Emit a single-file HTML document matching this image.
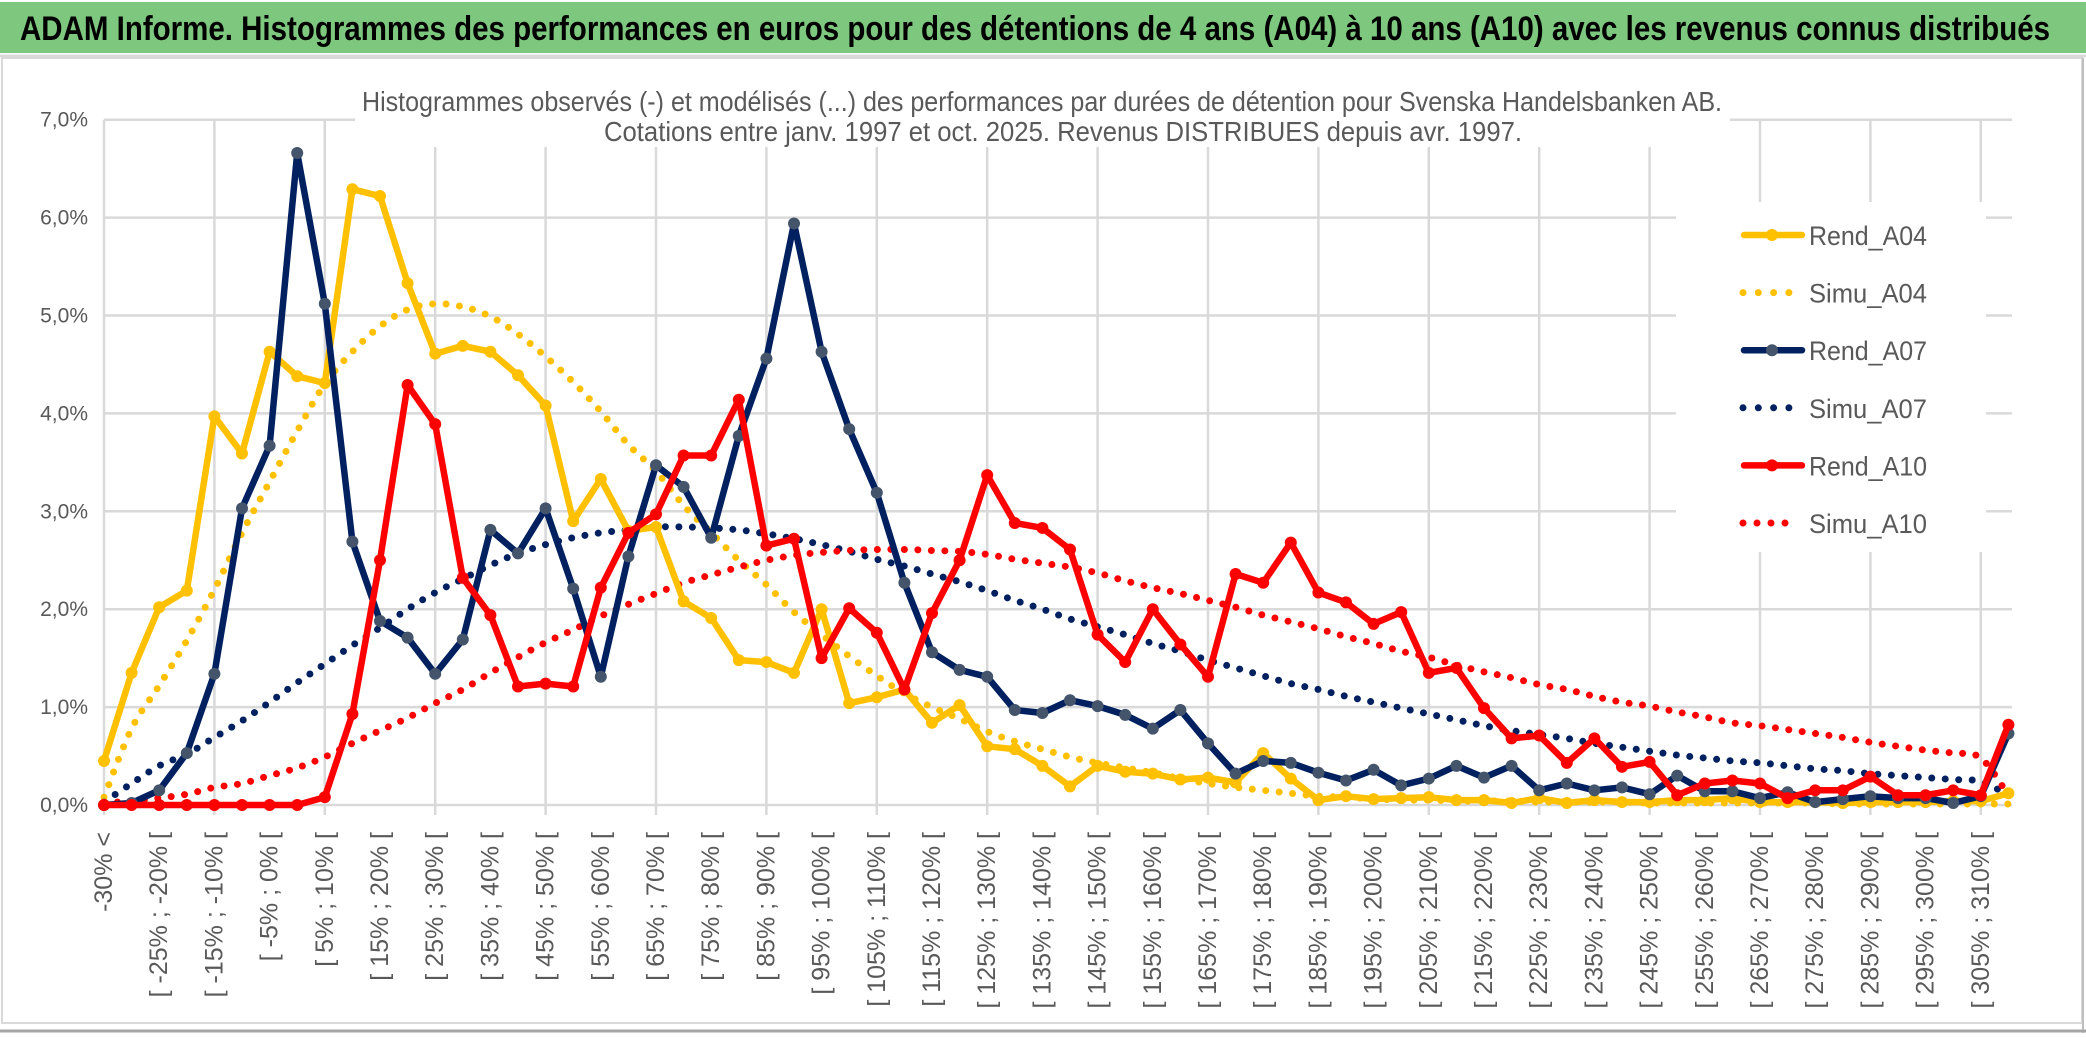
<!DOCTYPE html>
<html>
<head>
<meta charset="utf-8">
<style>
  html, body { margin:0; padding:0; background:#fff; }
  body { width:2086px; height:1033px; overflow:hidden; font-family:"Liberation Sans", Arial, sans-serif; }
  svg text { font-family:"Liberation Sans", Arial, sans-serif; }
</style>
</head>
<body>
<svg id="chart" width="2086" height="1033" viewBox="0 0 2086 1033" xmlns="http://www.w3.org/2000/svg">
  <rect x="0" y="0" width="2086" height="1033" fill="#ffffff"/>
  <rect x="0" y="2" width="2086" height="51" fill="#7dc87e"/>
  <line x1="0" y1="56" x2="2086" y2="56" stroke="#d9d9d9" stroke-width="3"/>
  <text x="20" y="40" font-size="34" font-weight="bold" fill="#000" textLength="2030" lengthAdjust="spacingAndGlyphs">ADAM Informe. Histogrammes des performances en euros pour des détentions de 4 ans (A04) à 10 ans (A10) avec les revenus connus distribués</text>
  <rect x="2" y="58" width="2080" height="965" fill="none" stroke="#d9d9d9" stroke-width="2"/>
  <line x1="2083" y1="58" x2="2083" y2="1033" stroke="#bfbfbf" stroke-width="2"/>
  <line x1="0" y1="1031" x2="2086" y2="1031" stroke="#a6a6a6" stroke-width="3"/>
  <g id="grid"></g>
  <g id="yaxis"></g>
  <g id="xaxis"></g>
  <g id="series"></g>
  <rect x="355" y="62" width="1375" height="85" fill="#ffffff"/>
  <text x="362" y="111" font-size="28" fill="#595959" textLength="1360" lengthAdjust="spacingAndGlyphs">Histogrammes observés (-) et modélisés (...) des performances par durées de détention pour Svenska Handelsbanken AB.</text>
  <text x="604" y="141" font-size="28" fill="#595959" textLength="918" lengthAdjust="spacingAndGlyphs">Cotations entre janv. 1997 et oct. 2025. Revenus DISTRIBUES depuis avr. 1997.</text>
  <rect x="1676" y="202" width="310" height="350" fill="#ffffff"/>
  <g id="legend"></g>
</svg>
<script>
const categories = [];
categories.push("-30% <");
for (let i = 1; i < 70; i++) { const lo = -35 + 5 * i; categories.push("[ " + lo + "% ; " + (lo + 5) + "% ["); }
const yTicks = [0,1,2,3,4,5,6,7];
const yTickLabels = ["0,0%","1,0%","2,0%","3,0%","4,0%","5,0%","6,0%","7,0%"];
const seriesNames = ["Rend_A04","Simu_A04","Rend_A07","Simu_A07","Rend_A10","Simu_A10"];
const rendA04 = [0.45,1.35,2.02,2.19,3.97,3.59,4.63,4.38,4.31,6.29,6.22,5.33,4.61,4.69,4.63,4.39,4.08,2.9,3.33,2.8,2.84,2.08,1.91,1.48,1.46,1.35,2.0,1.04,1.1,1.18,0.84,1.02,0.6,0.57,0.4,0.19,0.4,0.34,0.32,0.26,0.28,0.23,0.53,0.27,0.05,0.09,0.06,0.07,0.08,0.05,0.05,0.02,0.07,0.02,0.05,0.03,0.03,0.05,0.05,0.07,0.03,0.03,0.03,0.02,0.03,0.03,0.03,0.04,0.04,0.12];
const simuA04 = [0.08,0.78,1.22,1.68,2.2,2.78,3.3,3.82,4.3,4.63,4.89,5.06,5.12,5.09,4.99,4.81,4.58,4.32,4.02,3.68,3.41,3.06,2.78,2.5,2.25,1.97,1.74,1.52,1.32,1.14,1.0,0.88,0.75,0.65,0.57,0.49,0.43,0.38,0.33,0.27,0.22,0.18,0.15,0.12,0.09,0.08,0.06,0.05,0.05,0.04,0.04,0.04,0.03,0.03,0.03,0.03,0.02,0.02,0.02,0.02,0.02,0.02,0.02,0.01,0.01,0.01,0.01,0.01,0.01,0.01];
const rendA07 = [0,0.02,0.15,0.53,1.34,3.03,3.67,6.66,5.12,2.69,1.88,1.71,1.34,1.69,2.81,2.57,3.03,2.21,1.31,2.54,3.47,3.25,2.73,3.77,4.56,5.94,4.63,3.84,3.19,2.27,1.56,1.38,1.31,0.97,0.94,1.07,1.01,0.92,0.78,0.97,0.63,0.32,0.45,0.43,0.33,0.25,0.36,0.2,0.27,0.4,0.28,0.4,0.15,0.22,0.15,0.18,0.11,0.3,0.14,0.14,0.07,0.13,0.03,0.06,0.09,0.07,0.07,0.02,0.09,0.73];
const simuA07 = [0.03,0.22,0.4,0.52,0.69,0.86,1.05,1.25,1.44,1.63,1.81,2.0,2.17,2.31,2.45,2.57,2.66,2.73,2.78,2.81,2.84,2.84,2.83,2.81,2.77,2.72,2.66,2.59,2.51,2.44,2.36,2.28,2.19,2.09,2.0,1.9,1.82,1.74,1.65,1.57,1.48,1.4,1.32,1.24,1.18,1.11,1.05,0.99,0.93,0.87,0.81,0.76,0.72,0.68,0.63,0.59,0.55,0.51,0.48,0.45,0.43,0.4,0.37,0.35,0.32,0.3,0.28,0.26,0.24,0.1];
const rendA10 = [0,0,0,0,0,0,0,0,0.08,0.93,2.5,4.29,3.89,2.32,1.94,1.21,1.24,1.21,2.22,2.78,2.97,3.57,3.57,4.14,2.65,2.72,1.5,2.01,1.76,1.18,1.96,2.5,3.37,2.88,2.83,2.61,1.74,1.46,2.0,1.64,1.31,2.36,2.27,2.68,2.17,2.07,1.85,1.97,1.35,1.4,0.99,0.68,0.71,0.43,0.68,0.39,0.44,0.1,0.22,0.25,0.22,0.07,0.15,0.15,0.29,0.1,0.1,0.15,0.1,0.82];
const simuA10 = [0.02,0.04,0.07,0.11,0.18,0.22,0.3,0.38,0.49,0.63,0.76,0.89,1.04,1.18,1.35,1.51,1.66,1.79,1.93,2.05,2.16,2.27,2.35,2.43,2.5,2.55,2.58,2.6,2.61,2.61,2.6,2.59,2.56,2.51,2.47,2.43,2.37,2.29,2.22,2.16,2.09,2.02,1.94,1.87,1.8,1.72,1.65,1.57,1.51,1.43,1.36,1.3,1.23,1.18,1.11,1.05,1.01,0.95,0.9,0.84,0.81,0.77,0.73,0.69,0.64,0.6,0.56,0.53,0.48,0.1];

const NS = "http://www.w3.org/2000/svg";
const X0 = 104, DX = 27.6, Y0 = 805, PY = 97.9, XR = 2012;
function xPos(i) { return X0 + i * DX; }
function yPos(v) { return Y0 - v * PY; }
function mk(tag, attrs, parent) {
  const e = document.createElementNS(NS, tag);
  for (const k in attrs) e.setAttribute(k, attrs[k]);
  parent.appendChild(e);
  return e;
}
const grid = document.getElementById('grid');
const yaxis = document.getElementById('yaxis');
const xaxis = document.getElementById('xaxis');
const seriesG = document.getElementById('series');
const legend = document.getElementById('legend');

for (let t = 0; t < yTicks.length; t++) {
  const y = yPos(yTicks[t]);
  const gl = mk('line', {x1: X0, y1: y, x2: XR, y2: y, stroke: '#d9d9d9', 'stroke-width': 2.5}, grid);
  
  
  const tl = mk('text', {x: 88, y: y + 7, 'font-size': 21, fill: '#595959', 'text-anchor': 'end'}, yaxis);
  tl.textContent = yTickLabels[t];
  
  
}
for (let i = 0; i < categories.length; i += 4) {
  const x = xPos(i);
  const vl = mk('line', {x1: x, y1: yPos(7), x2: x, y2: Y0 + 10, stroke: '#d9d9d9', 'stroke-width': 2.5}, grid);
  
  
}
for (let i = 0; i < categories.length; i += 2) {
  const x = xPos(i), y = 832;
  const t = mk('text', {x: x, y: y, 'font-size': 25, fill: '#595959', 'text-anchor': 'end', 'dominant-baseline': 'central', transform: 'rotate(-90 ' + x + ' ' + y + ')'}, xaxis);
  t.textContent = categories[i];
  
  
}

function pathD(vals) {
  return vals.map((v, i) => (i ? 'L' : 'M') + xPos(i).toFixed(1) + ' ' + yPos(v).toFixed(1)).join(' ');
}
function smoothD(vals) {
  const p = vals.map((v, i) => [xPos(i), yPos(v)]);
  let d = 'M' + p[0][0].toFixed(1) + ' ' + p[0][1].toFixed(1);
  for (let i = 0; i < p.length - 1; i++) {
    const p0 = p[Math.max(0, i - 1)], p1 = p[i], p2 = p[i + 1], p3 = p[Math.min(p.length - 1, i + 2)];
    const c1x = p1[0] + (p2[0] - p0[0]) / 6, c1y = p1[1] + (p2[1] - p0[1]) / 6;
    const c2x = p2[0] - (p3[0] - p1[0]) / 6, c2y = p2[1] - (p3[1] - p1[1]) / 6;
    d += ' C' + c1x.toFixed(1) + ' ' + c1y.toFixed(1) + ' ' + c2x.toFixed(1) + ' ' + c2y.toFixed(1) + ' ' + p2[0].toFixed(1) + ' ' + p2[1].toFixed(1);
  }
  return d;
}
function drawSimu(vals, color, name) {
  const p = mk('path', {d: smoothD(vals), fill: 'none', stroke: color, 'stroke-width': 7, 'stroke-linecap': 'round', 'stroke-dasharray': '0 13.5'}, seriesG);
  
  
}
function drawRend(vals, color, markerColor, name) {
  const p = mk('path', {d: pathD(vals), fill: 'none', stroke: color, 'stroke-width': 6.5, 'stroke-linejoin': 'round'}, seriesG);
  
  
  for (let i = 0; i < vals.length; i++) {
    const c = mk('circle', {cx: xPos(i), cy: yPos(vals[i]), r: 6, fill: markerColor}, seriesG);
    
    
  }
}
drawSimu(simuA04, '#ffc000', 'simu-a04-line');
drawSimu(simuA07, '#002060', 'simu-a07-line');
drawSimu(simuA10, '#ff0000', 'simu-a10-line');
drawRend(rendA04, '#ffc000', '#ffc000', 'rend-a04-line');
drawRend(rendA07, '#002060', '#44546a', 'rend-a07-line');
drawRend(rendA10, '#ff0000', '#ff0000', 'rend-a10-line');

const legendColors = ['#ffc000','#ffc000','#002060','#002060','#ff0000','#ff0000'];
const legendMarkers = ['#ffc000', null, '#44546a', null, '#ff0000', null];
for (let k = 0; k < seriesNames.length; k++) {
  const y = 235 + k * 57.6;
  const g = mk('g', {}, legend);
  
  
  if (legendMarkers[k]) {
    mk('line', {x1: 1744, y1: y, x2: 1802, y2: y, stroke: legendColors[k], 'stroke-width': 6.5, 'stroke-linecap': 'round'}, g);
    mk('circle', {cx: 1772, cy: y, r: 6, fill: legendMarkers[k]}, g);
  } else {
    mk('line', {x1: 1743, y1: y, x2: k === 5 ? 1799 : 1789, y2: y, stroke: legendColors[k], 'stroke-width': 7, 'stroke-linecap': 'round', 'stroke-dasharray': k === 5 ? '0 14' : '0 15.3'}, g);
  }
  const t = mk('text', {x: 1809, y: y + 10, 'font-size': 27, fill: '#595959', textLength: 118, lengthAdjust: 'spacingAndGlyphs'}, g);
  t.textContent = seriesNames[k];
}
</script>
</body>
</html>
